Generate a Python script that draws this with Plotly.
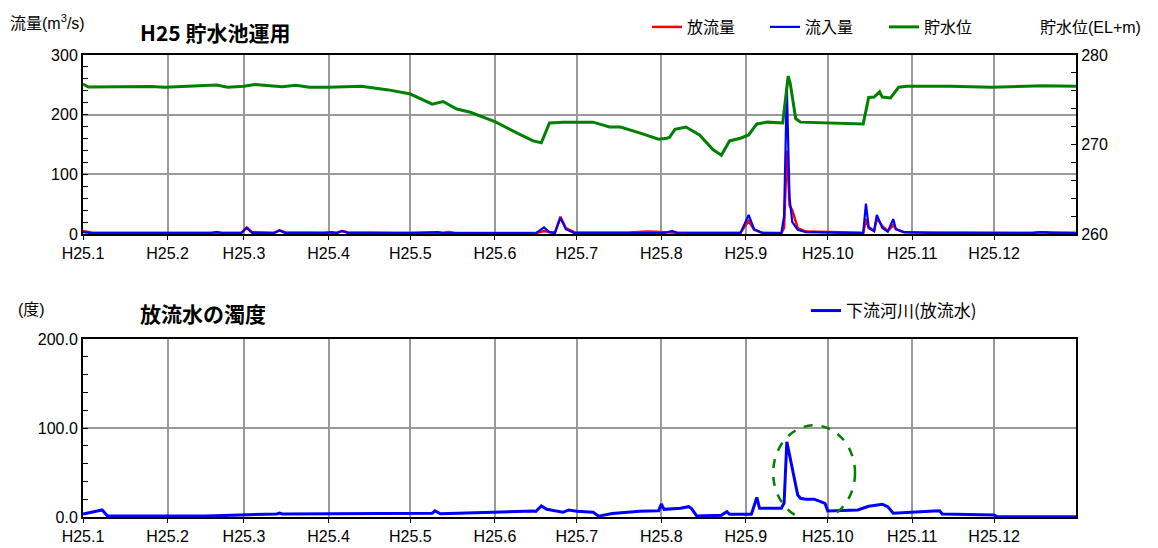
import plotly.graph_objects as go

# ---------------- data ----------------
month_ticks = ["2013-01-01", "2013-02-01", "2013-03-01", "2013-04-01", "2013-05-01", "2013-06-01",
               "2013-07-01", "2013-08-01", "2013-09-01", "2013-10-01", "2013-11-01", "2013-12-01"]
month_labels = ["H25.1", "H25.2", "H25.3", "H25.4", "H25.5", "H25.6",
                "H25.7", "H25.8", "H25.9", "H25.10", "H25.11", "H25.12"]

flow_dates = ["2013-01-01", "2013-01-04", "2013-01-20", "2013-02-10", "2013-02-17", "2013-02-19",
              "2013-02-21", "2013-02-28", "2013-03-02", "2013-03-04", "2013-03-12", "2013-03-14",
              "2013-03-16", "2013-03-30", "2013-04-02", "2013-04-04", "2013-04-06", "2013-04-08",
              "2013-04-25", "2013-05-01", "2013-05-11", "2013-05-13", "2013-05-15", "2013-05-17",
              "2013-06-16", "2013-06-19", "2013-06-21", "2013-06-23", "2013-06-25", "2013-06-27",
              "2013-06-30", "2013-07-20", "2013-07-27", "2013-08-02", "2013-08-05", "2013-08-07",
              "2013-08-30", "2013-09-02", "2013-09-04", "2013-09-07", "2013-09-14", "2013-09-15",
              "2013-09-16", "2013-09-17", "2013-09-18", "2013-09-20", "2013-09-23", "2013-10-01",
              "2013-10-14", "2013-10-15", "2013-10-16", "2013-10-18", "2013-10-19", "2013-10-21",
              "2013-10-23", "2013-10-25", "2013-10-26", "2013-10-29", "2013-11-10", "2013-12-15",
              "2013-12-18", "2013-12-22", "2013-12-31"]
inflow = [3, 1.5, 1.5, 1.5, 1.5, 3.5,
          1.5, 1.5, 10, 2, 1.5, 6,
          2, 1.5, 3, 1.5, 5, 2,
          1.5, 1.5, 3, 1.5, 1.5, 1.5,
          1.5, 11, 3, 2, 27, 8,
          2, 1.5, 1.5, 1.5, 5, 1.5,
          1.5, 32, 8, 2, 1.5, 30,
          245, 60, 20, 7, 3, 2,
          1.5, 51, 12, 5, 32, 10,
          4, 25, 8, 3, 1.5, 1.5,
          3, 2, 1.5]
outflow = [5, 2.5, 2, 2.5, 2, 3,
           2, 2, 11, 3, 2, 6,
           3, 2, 3, 2, 5, 3,
           2, 2, 2, 2, 3.5, 2,
           1.5, 5, 3, 2, 29, 10,
           3, 2.5, 4, 3, 2.5, 2,
           2, 22, 7, 2, 1.5, 10,
           140, 48, 40, 10, 4, 3,
           2, 25, 10, 5, 27, 13,
           5, 15, 8, 3, 2.5, 2,
           3, 3, 2]

level_dates = ["2013-01-01", "2013-01-03", "2013-01-26", "2013-01-31", "2013-02-19", "2013-02-23",
               "2013-03-01", "2013-03-05", "2013-03-15", "2013-03-20", "2013-03-25", "2013-04-01",
               "2013-04-13", "2013-04-23", "2013-05-01", "2013-05-09", "2013-05-13", "2013-05-15",
               "2013-05-18", "2013-05-23", "2013-06-01", "2013-06-09", "2013-06-15", "2013-06-18",
               "2013-06-21", "2013-06-26", "2013-07-07", "2013-07-13", "2013-07-17", "2013-07-24",
               "2013-07-31", "2013-08-03", "2013-08-04", "2013-08-06", "2013-08-10", "2013-08-15",
               "2013-08-20", "2013-08-23", "2013-08-26", "2013-08-30", "2013-09-02", "2013-09-05",
               "2013-09-09", "2013-09-14 12:00", "2013-09-15 12:00", "2013-09-16 12:00", "2013-09-17 06:00",
               "2013-09-18 06:00", "2013-09-19 06:00", "2013-09-21", "2013-10-03", "2013-10-14",
               "2013-10-16", "2013-10-18", "2013-10-20", "2013-10-21", "2013-10-24", "2013-10-27",
               "2013-10-30", "2013-11-15", "2013-11-30", "2013-12-19", "2013-12-31"]
level = [276.76, 276.42, 276.48, 276.40, 276.65, 276.40,
         276.50, 276.70, 276.45, 276.62, 276.40, 276.40,
         276.50, 276.10, 275.64, 274.50, 274.80, 274.50,
         273.97, 273.60, 272.55, 271.30, 270.40, 270.20,
         272.40, 272.50, 272.50, 271.95, 271.95, 271.30,
         270.60, 270.70, 270.80, 271.70, 271.95, 271.06,
         269.40, 268.80, 270.40, 270.70, 271.06, 272.30,
         272.50, 272.40, 274.90, 277.65, 276.80,
         275.00, 272.90, 272.50, 272.40, 272.30,
         275.25, 275.30, 275.90, 275.30, 275.20, 276.40,
         276.50, 276.50, 276.40, 276.57, 276.50]

turb_dates = ["2013-01-01", "2013-01-08", "2013-01-10", "2013-02-15", "2013-03-13", "2013-03-14",
              "2013-03-15", "2013-04-27", "2013-05-09", "2013-05-10", "2013-05-12", "2013-06-15",
              "2013-06-16", "2013-06-18", "2013-06-20", "2013-06-26", "2013-06-28", "2013-07-01",
              "2013-07-07", "2013-07-09", "2013-07-14", "2013-07-24", "2013-07-31", "2013-08-01",
              "2013-08-02", "2013-08-08", "2013-08-11", "2013-08-12", "2013-08-14", "2013-08-23",
              "2013-08-25", "2013-08-26", "2013-09-03", "2013-09-05", "2013-09-06", "2013-09-14",
              "2013-09-15", "2013-09-16", "2013-09-20", "2013-09-21", "2013-09-23", "2013-09-26",
              "2013-09-30", "2013-10-01", "2013-10-12", "2013-10-16", "2013-10-21", "2013-10-23",
              "2013-10-25", "2013-11-09", "2013-11-11", "2013-11-12", "2013-12-01", "2013-12-02",
              "2013-12-31"]
turbidity = [3.4, 7.9, 1.0, 1.0, 3.5, 4.5,
             3.4, 4.0, 4.2, 7.0, 3.7, 6.7,
             6.2, 12.4, 8.6, 5.3, 7.9, 6.5,
             5.3, 1.0, 4.0, 6.4, 7.0, 14.6,
             8.6, 9.8, 11.6, 9.8, 1.0, 2.0,
             6.0, 3.0, 3.0, 22.0, 9.8, 9.8,
             15.7, 84.6, 24.7, 21.0, 20.0, 20.0,
             15.4, 6.7, 7.9, 12.0, 14.3, 11.6,
             4.2, 6.7, 7.0, 3.4, 2.2, 0.4,
             0.3]

# ---------------- layout helpers (page pixels; the page body adds an 8px offset) ----------------
OFF = 8
W, H = 1150, 540            # figure size inside the page
PL, PR, PT, PB = 83, 1076, 55, 517   # plot-area edges in page pixels
ML, MT = PL - OFF, PT - OFF
MR = W - (PR - OFF)
MB = H - (PB - OFF)
PW, PH = PR - PL, PB - PT


def px_x(px):
    return (px - PL) / PW


def px_y(py):
    return (PB - py) / PH


FONT = "Liberation Sans, Arial, Noto Sans CJK JP, sans-serif"
CJK = "Noto Sans CJK JP, sans-serif"
GRID = "#9a9a9a"

fig = go.Figure()
fig.add_trace(go.Scatter(x=flow_dates, y=outflow, name="放流量", mode="lines",
                         line=dict(color="#ff0000", width=2.5), xaxis="x", yaxis="y", legend="legend"))
fig.add_trace(go.Scatter(x=flow_dates, y=inflow, name="流入量", mode="lines",
                         line=dict(color="#0000ff", width=2.2), xaxis="x", yaxis="y", legend="legend3"))
fig.add_trace(go.Scatter(x=level_dates, y=level, name="貯水位", mode="lines",
                         line=dict(color="#008000", width=3), xaxis="x", yaxis="y2", legend="legend4"))
fig.add_trace(go.Scatter(x=turb_dates, y=turbidity, name="下流河川(放流水)", mode="lines",
                         line=dict(color="#0000ff", width=3), xaxis="x2", yaxis="y3", legend="legend2"))

xcommon = dict(type="date", range=["2013-01-01", "2013-12-31"], tickmode="array",
               tickvals=month_ticks, ticktext=month_labels, showgrid=True, gridcolor=GRID, gridwidth=1.5,
               showline=True, linecolor="black", linewidth=2, mirror=True, ticks="outside", ticklen=4,
               tickcolor="black", tickfont=dict(size=16, family=FONT, color="black"), zeroline=False)


def leg(px, py, size=16):
    return dict(orientation="h", x=px_x(px), xanchor="left", y=px_y(py), yanchor="middle",
                font=dict(size=size, family=CJK), bgcolor="rgba(0,0,0,0)", itemwidth=30)


fig.update_layout(
    width=W, height=H, margin=dict(l=ML, r=MR, t=MT, b=MB, autoexpand=False),
    paper_bgcolor="white", plot_bgcolor="white",
    font=dict(family=FONT, size=16, color="black"),
    xaxis=dict(domain=[0, 1], anchor="y", **xcommon),
    xaxis2=dict(domain=[0, 1], anchor="y3", **xcommon),
    yaxis=dict(domain=[px_y(234), 1], range=[0, 300], dtick=100, showgrid=True, gridcolor=GRID, gridwidth=1.5,
               showline=True, linecolor="black", linewidth=2, mirror=True, ticks="inside", ticklen=5,
               tickcolor="black", minor=dict(dtick=20, ticks="inside", ticklen=5, tickcolor="black", showgrid=False),
               zeroline=False, tickfont=dict(size=16, family=FONT)),
    yaxis2=dict(overlaying="y", side="right", anchor="x", range=[260, 280], dtick=10, showgrid=False,
                showline=True, linecolor="black", linewidth=2, ticks="inside", ticklen=5, tickcolor="black",
                minor=dict(dtick=2, ticks="inside", ticklen=5, tickcolor="black"),
                zeroline=False, tickfont=dict(size=16, family=FONT)),
    yaxis3=dict(domain=[0, px_y(339)], anchor="x2", range=[0, 200], dtick=100, tickformat=".1f",
                showgrid=True, gridcolor=GRID, gridwidth=1.5,
                showline=True, linecolor="black", linewidth=2, mirror=True, ticks="inside", ticklen=5,
                tickcolor="black", minor=dict(dtick=20, ticks="inside", ticklen=5, tickcolor="black", showgrid=False),
                zeroline=False, tickfont=dict(size=16, family=FONT)),
    legend=leg(647, 27),
    legend3=leg(765, 27),
    legend4=leg(884, 27),
    legend2=leg(806, 311, 17),
    showlegend=True,
)

annotations = [
    dict(text="流量(m<sup>3</sup>/s)", x=px_x(8), y=px_y(22), xanchor="left", yanchor="middle",
         font=dict(size=16, family=FONT)),
    dict(text="<b>H25 貯水池運用</b>", x=px_x(138), y=px_y(32), xanchor="left", yanchor="middle",
         font=dict(size=21, family=CJK)),
    dict(text="貯水位(EL+m)", x=px_x(1038), y=px_y(28), xanchor="left", yanchor="middle",
         font=dict(size=16, family=FONT)),
    dict(text="(度)", x=px_x(16), y=px_y(309), xanchor="left", yanchor="middle",
         font=dict(size=16, family=FONT)),
    dict(text="<b>放流水の濁度</b>", x=px_x(138), y=px_y(313), xanchor="left", yanchor="middle",
         font=dict(size=21, family=CJK)),
]
for a in annotations:
    a.update(xref="paper", yref="paper", showarrow=False)
fig.update_layout(annotations=annotations)

fig.add_shape(type="circle", xref="x2", yref="y3", x0="2013-09-11", x1="2013-10-11", y0=-4, y1=103,
              line=dict(color="#008000", width=2.5, dash="dash"), layer="above")

fig.write_html("out.html")
